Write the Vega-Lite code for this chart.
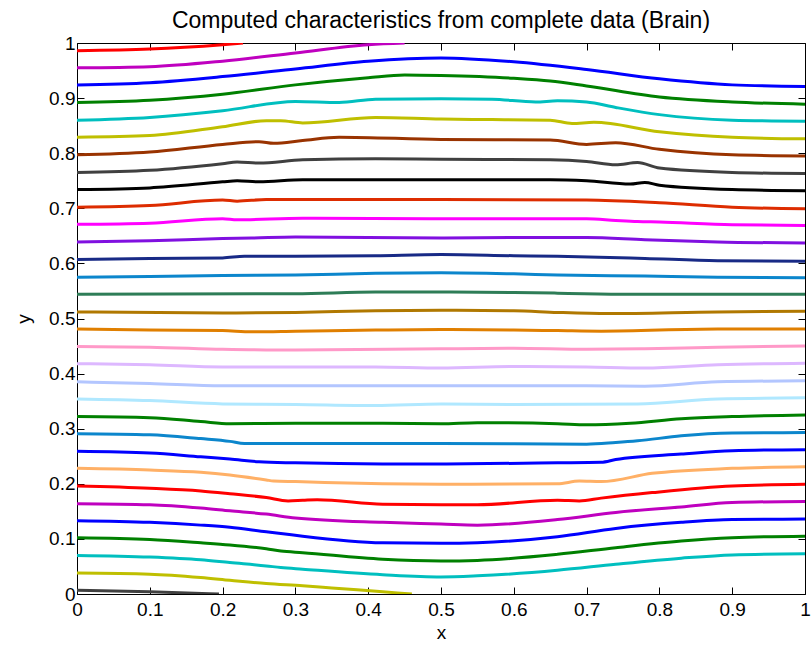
{
  "$schema": "https://vega.github.io/schema/vega-lite/v6.json",
  "width": 728,
  "height": 551,
  "autosize": {"type": "none"},
  "padding": {"left": 77, "top": 43, "right": 7, "bottom": 51},
  "background": "white",
  "title": {
    "text": "Computed characteristics from complete data (Brain)",
    "font": "Liberation Sans",
    "fontSize": 23,
    "fontWeight": "normal",
    "color": "black",
    "anchor": "middle",
    "offset": 1
  },
  "config": {
    "view": {"stroke": null},
    "axis": {
      "grid": false,
      "domainColor": "black",
      "domainWidth": 1,
      "tickColor": "black",
      "tickWidth": 1,
      "labelFont": "Liberation Sans",
      "labelFontSize": 19,
      "labelColor": "black",
      "titleFont": "Liberation Sans",
      "titleFontSize": 19,
      "titleFontWeight": "normal",
      "titleColor": "black"
    }
  },
  "data": {
    "values": [
      {"k": 1, "x": 0, "y": 0.986}, {"k": 1, "x": 0.1, "y": 0.989}, {"k": 1, "x": 0.2, "y": 0.997}, {"k": 1, "x": 0.228, "y": 1.0},
      {"k": 2, "x": 0, "y": 0.955}, {"k": 2, "x": 0.1, "y": 0.957}, {"k": 2, "x": 0.2, "y": 0.967}, {"k": 2, "x": 0.3, "y": 0.982}, {"k": 2, "x": 0.4, "y": 0.997}, {"k": 2, "x": 0.45, "y": 1.0},
      {"k": 3, "x": 0, "y": 0.924}, {"k": 3, "x": 0.1, "y": 0.928}, {"k": 3, "x": 0.2, "y": 0.939}, {"k": 3, "x": 0.3, "y": 0.953}, {"k": 3, "x": 0.4, "y": 0.967}, {"k": 3, "x": 0.5, "y": 0.973}, {"k": 3, "x": 0.6, "y": 0.966}, {"k": 3, "x": 0.7, "y": 0.952}, {"k": 3, "x": 0.8, "y": 0.935}, {"k": 3, "x": 0.9, "y": 0.924}, {"k": 3, "x": 1, "y": 0.921},
      {"k": 4, "x": 0, "y": 0.892}, {"k": 4, "x": 0.1, "y": 0.896}, {"k": 4, "x": 0.2, "y": 0.907}, {"k": 4, "x": 0.3, "y": 0.924}, {"k": 4, "x": 0.4, "y": 0.937}, {"k": 4, "x": 0.45, "y": 0.942}, {"k": 4, "x": 0.5, "y": 0.941}, {"k": 4, "x": 0.6, "y": 0.936}, {"k": 4, "x": 0.65, "y": 0.931}, {"k": 4, "x": 0.7, "y": 0.922}, {"k": 4, "x": 0.8, "y": 0.902}, {"k": 4, "x": 0.9, "y": 0.893}, {"k": 4, "x": 1, "y": 0.889},
      {"k": 5, "x": 0, "y": 0.860}, {"k": 5, "x": 0.1, "y": 0.865}, {"k": 5, "x": 0.2, "y": 0.877}, {"k": 5, "x": 0.3, "y": 0.894}, {"k": 5, "x": 0.36, "y": 0.892}, {"k": 5, "x": 0.41, "y": 0.898}, {"k": 5, "x": 0.5, "y": 0.899}, {"k": 5, "x": 0.57, "y": 0.898}, {"k": 5, "x": 0.63, "y": 0.893}, {"k": 5, "x": 0.66, "y": 0.895}, {"k": 5, "x": 0.7, "y": 0.893}, {"k": 5, "x": 0.74, "y": 0.883}, {"k": 5, "x": 0.8, "y": 0.870}, {"k": 5, "x": 0.9, "y": 0.860}, {"k": 5, "x": 1, "y": 0.858},
      {"k": 6, "x": 0, "y": 0.829}, {"k": 6, "x": 0.1, "y": 0.832}, {"k": 6, "x": 0.2, "y": 0.848}, {"k": 6, "x": 0.26, "y": 0.859}, {"k": 6, "x": 0.28, "y": 0.859}, {"k": 6, "x": 0.31, "y": 0.855}, {"k": 6, "x": 0.41, "y": 0.865}, {"k": 6, "x": 0.5, "y": 0.862}, {"k": 6, "x": 0.57, "y": 0.861}, {"k": 6, "x": 0.65, "y": 0.860}, {"k": 6, "x": 0.68, "y": 0.854}, {"k": 6, "x": 0.71, "y": 0.856}, {"k": 6, "x": 0.8, "y": 0.839}, {"k": 6, "x": 0.9, "y": 0.829}, {"k": 6, "x": 1, "y": 0.826},
      {"k": 7, "x": 0, "y": 0.797}, {"k": 7, "x": 0.1, "y": 0.802}, {"k": 7, "x": 0.2, "y": 0.816}, {"k": 7, "x": 0.25, "y": 0.821}, {"k": 7, "x": 0.27, "y": 0.818}, {"k": 7, "x": 0.31, "y": 0.823}, {"k": 7, "x": 0.36, "y": 0.829}, {"k": 7, "x": 0.5, "y": 0.825}, {"k": 7, "x": 0.65, "y": 0.824}, {"k": 7, "x": 0.7, "y": 0.816}, {"k": 7, "x": 0.74, "y": 0.819}, {"k": 7, "x": 0.8, "y": 0.807}, {"k": 7, "x": 0.9, "y": 0.797}, {"k": 7, "x": 1, "y": 0.795},
      {"k": 8, "x": 0, "y": 0.765}, {"k": 8, "x": 0.1, "y": 0.769}, {"k": 8, "x": 0.2, "y": 0.781}, {"k": 8, "x": 0.22, "y": 0.784}, {"k": 8, "x": 0.25, "y": 0.782}, {"k": 8, "x": 0.31, "y": 0.788}, {"k": 8, "x": 0.41, "y": 0.790}, {"k": 8, "x": 0.5, "y": 0.789}, {"k": 8, "x": 0.65, "y": 0.788}, {"k": 8, "x": 0.7, "y": 0.785}, {"k": 8, "x": 0.74, "y": 0.779}, {"k": 8, "x": 0.77, "y": 0.783}, {"k": 8, "x": 0.8, "y": 0.773}, {"k": 8, "x": 0.9, "y": 0.765}, {"k": 8, "x": 1, "y": 0.763},
      {"k": 9, "x": 0, "y": 0.734}, {"k": 9, "x": 0.1, "y": 0.737}, {"k": 9, "x": 0.2, "y": 0.748}, {"k": 9, "x": 0.22, "y": 0.750}, {"k": 9, "x": 0.25, "y": 0.748}, {"k": 9, "x": 0.31, "y": 0.752}, {"k": 9, "x": 0.5, "y": 0.752}, {"k": 9, "x": 0.65, "y": 0.752}, {"k": 9, "x": 0.7, "y": 0.750}, {"k": 9, "x": 0.76, "y": 0.744}, {"k": 9, "x": 0.78, "y": 0.747}, {"k": 9, "x": 0.8, "y": 0.742}, {"k": 9, "x": 0.9, "y": 0.734}, {"k": 9, "x": 1, "y": 0.732},
      {"k": 10, "x": 0, "y": 0.702}, {"k": 10, "x": 0.1, "y": 0.705}, {"k": 10, "x": 0.2, "y": 0.715}, {"k": 10, "x": 0.22, "y": 0.713}, {"k": 10, "x": 0.26, "y": 0.716}, {"k": 10, "x": 0.5, "y": 0.716}, {"k": 10, "x": 0.7, "y": 0.715}, {"k": 10, "x": 0.8, "y": 0.710}, {"k": 10, "x": 0.9, "y": 0.702}, {"k": 10, "x": 1, "y": 0.699},
      {"k": 11, "x": 0, "y": 0.671}, {"k": 11, "x": 0.1, "y": 0.673}, {"k": 11, "x": 0.2, "y": 0.681}, {"k": 11, "x": 0.22, "y": 0.679}, {"k": 11, "x": 0.31, "y": 0.682}, {"k": 11, "x": 0.5, "y": 0.681}, {"k": 11, "x": 0.7, "y": 0.681}, {"k": 11, "x": 0.74, "y": 0.678}, {"k": 11, "x": 0.77, "y": 0.676}, {"k": 11, "x": 0.8, "y": 0.675}, {"k": 11, "x": 0.9, "y": 0.670}, {"k": 11, "x": 1, "y": 0.669},
      {"k": 12, "x": 0, "y": 0.639}, {"k": 12, "x": 0.1, "y": 0.641}, {"k": 12, "x": 0.2, "y": 0.645}, {"k": 12, "x": 0.24, "y": 0.646}, {"k": 12, "x": 0.3, "y": 0.648}, {"k": 12, "x": 0.5, "y": 0.646}, {"k": 12, "x": 0.6, "y": 0.647}, {"k": 12, "x": 0.7, "y": 0.647}, {"k": 12, "x": 0.78, "y": 0.643}, {"k": 12, "x": 0.88, "y": 0.639}, {"k": 12, "x": 1, "y": 0.637},
      {"k": 13, "x": 0, "y": 0.607}, {"k": 13, "x": 0.1, "y": 0.609}, {"k": 13, "x": 0.2, "y": 0.610}, {"k": 13, "x": 0.23, "y": 0.613}, {"k": 13, "x": 0.3, "y": 0.613}, {"k": 13, "x": 0.41, "y": 0.614}, {"k": 13, "x": 0.5, "y": 0.616}, {"k": 13, "x": 0.6, "y": 0.614}, {"k": 13, "x": 0.66, "y": 0.613}, {"k": 13, "x": 0.78, "y": 0.609}, {"k": 13, "x": 0.88, "y": 0.605}, {"k": 13, "x": 1, "y": 0.604},
      {"k": 14, "x": 0, "y": 0.575}, {"k": 14, "x": 0.1, "y": 0.576}, {"k": 14, "x": 0.2, "y": 0.578}, {"k": 14, "x": 0.3, "y": 0.579}, {"k": 14, "x": 0.41, "y": 0.582}, {"k": 14, "x": 0.5, "y": 0.583}, {"k": 14, "x": 0.6, "y": 0.581}, {"k": 14, "x": 0.66, "y": 0.579}, {"k": 14, "x": 0.78, "y": 0.577}, {"k": 14, "x": 0.88, "y": 0.575}, {"k": 14, "x": 1, "y": 0.574},
      {"k": 15, "x": 0, "y": 0.544}, {"k": 15, "x": 0.3, "y": 0.545}, {"k": 15, "x": 0.41, "y": 0.548}, {"k": 15, "x": 0.5, "y": 0.548}, {"k": 15, "x": 0.6, "y": 0.547}, {"k": 15, "x": 0.66, "y": 0.546}, {"k": 15, "x": 0.76, "y": 0.544}, {"k": 15, "x": 1, "y": 0.544},
      {"k": 16, "x": 0, "y": 0.512}, {"k": 16, "x": 0.2, "y": 0.510}, {"k": 16, "x": 0.3, "y": 0.511}, {"k": 16, "x": 0.41, "y": 0.514}, {"k": 16, "x": 0.5, "y": 0.515}, {"k": 16, "x": 0.6, "y": 0.514}, {"k": 16, "x": 0.66, "y": 0.511}, {"k": 16, "x": 0.73, "y": 0.509}, {"k": 16, "x": 0.88, "y": 0.512}, {"k": 16, "x": 1, "y": 0.513},
      {"k": 17, "x": 0, "y": 0.481}, {"k": 17, "x": 0.1, "y": 0.479}, {"k": 17, "x": 0.2, "y": 0.478}, {"k": 17, "x": 0.24, "y": 0.476}, {"k": 17, "x": 0.3, "y": 0.477}, {"k": 17, "x": 0.41, "y": 0.479}, {"k": 17, "x": 0.5, "y": 0.480}, {"k": 17, "x": 0.6, "y": 0.479}, {"k": 17, "x": 0.66, "y": 0.478}, {"k": 17, "x": 0.72, "y": 0.477}, {"k": 17, "x": 0.88, "y": 0.481}, {"k": 17, "x": 1, "y": 0.481},
      {"k": 18, "x": 0, "y": 0.449}, {"k": 18, "x": 0.1, "y": 0.448}, {"k": 18, "x": 0.2, "y": 0.444}, {"k": 18, "x": 0.26, "y": 0.443}, {"k": 18, "x": 0.3, "y": 0.443}, {"k": 18, "x": 0.5, "y": 0.445}, {"k": 18, "x": 0.6, "y": 0.446}, {"k": 18, "x": 0.7, "y": 0.444}, {"k": 18, "x": 0.78, "y": 0.445}, {"k": 18, "x": 0.88, "y": 0.448}, {"k": 18, "x": 1, "y": 0.450},
      {"k": 19, "x": 0, "y": 0.418}, {"k": 19, "x": 0.1, "y": 0.416}, {"k": 19, "x": 0.2, "y": 0.412}, {"k": 19, "x": 0.3, "y": 0.412}, {"k": 19, "x": 0.41, "y": 0.412}, {"k": 19, "x": 0.5, "y": 0.410}, {"k": 19, "x": 0.6, "y": 0.413}, {"k": 19, "x": 0.7, "y": 0.412}, {"k": 19, "x": 0.78, "y": 0.410}, {"k": 19, "x": 0.88, "y": 0.416}, {"k": 19, "x": 1, "y": 0.419},
      {"k": 20, "x": 0, "y": 0.385}, {"k": 20, "x": 0.1, "y": 0.382}, {"k": 20, "x": 0.2, "y": 0.378}, {"k": 20, "x": 0.3, "y": 0.378}, {"k": 20, "x": 0.5, "y": 0.378}, {"k": 20, "x": 0.7, "y": 0.378}, {"k": 20, "x": 0.78, "y": 0.377}, {"k": 20, "x": 0.88, "y": 0.385}, {"k": 20, "x": 1, "y": 0.387},
      {"k": 21, "x": 0, "y": 0.354}, {"k": 21, "x": 0.1, "y": 0.351}, {"k": 21, "x": 0.2, "y": 0.345}, {"k": 21, "x": 0.3, "y": 0.344}, {"k": 21, "x": 0.41, "y": 0.342}, {"k": 21, "x": 0.5, "y": 0.345}, {"k": 21, "x": 0.6, "y": 0.344}, {"k": 21, "x": 0.77, "y": 0.345}, {"k": 21, "x": 0.88, "y": 0.354}, {"k": 21, "x": 1, "y": 0.356},
      {"k": 22, "x": 0, "y": 0.322}, {"k": 22, "x": 0.1, "y": 0.320}, {"k": 22, "x": 0.17, "y": 0.313}, {"k": 22, "x": 0.21, "y": 0.309}, {"k": 22, "x": 0.3, "y": 0.310}, {"k": 22, "x": 0.42, "y": 0.310}, {"k": 22, "x": 0.5, "y": 0.309}, {"k": 22, "x": 0.55, "y": 0.311}, {"k": 22, "x": 0.66, "y": 0.309}, {"k": 22, "x": 0.7, "y": 0.307}, {"k": 22, "x": 0.76, "y": 0.310}, {"k": 22, "x": 0.83, "y": 0.318}, {"k": 22, "x": 0.9, "y": 0.322}, {"k": 22, "x": 1, "y": 0.325},
      {"k": 23, "x": 0, "y": 0.291}, {"k": 23, "x": 0.1, "y": 0.289}, {"k": 23, "x": 0.17, "y": 0.282}, {"k": 23, "x": 0.21, "y": 0.277}, {"k": 23, "x": 0.23, "y": 0.273}, {"k": 23, "x": 0.5, "y": 0.273}, {"k": 23, "x": 0.7, "y": 0.272}, {"k": 23, "x": 0.74, "y": 0.275}, {"k": 23, "x": 0.77, "y": 0.278}, {"k": 23, "x": 0.83, "y": 0.287}, {"k": 23, "x": 0.9, "y": 0.292}, {"k": 23, "x": 1, "y": 0.293},
      {"k": 24, "x": 0, "y": 0.259}, {"k": 24, "x": 0.1, "y": 0.256}, {"k": 24, "x": 0.17, "y": 0.249}, {"k": 24, "x": 0.21, "y": 0.245}, {"k": 24, "x": 0.25, "y": 0.240}, {"k": 24, "x": 0.3, "y": 0.238}, {"k": 24, "x": 0.42, "y": 0.236}, {"k": 24, "x": 0.5, "y": 0.236}, {"k": 24, "x": 0.66, "y": 0.238}, {"k": 24, "x": 0.72, "y": 0.239}, {"k": 24, "x": 0.74, "y": 0.244}, {"k": 24, "x": 0.83, "y": 0.254}, {"k": 24, "x": 0.9, "y": 0.260}, {"k": 24, "x": 1, "y": 0.262},
      {"k": 25, "x": 0, "y": 0.228}, {"k": 25, "x": 0.1, "y": 0.225}, {"k": 25, "x": 0.17, "y": 0.221}, {"k": 25, "x": 0.21, "y": 0.216}, {"k": 25, "x": 0.26, "y": 0.207}, {"k": 25, "x": 0.27, "y": 0.205}, {"k": 25, "x": 0.3, "y": 0.204}, {"k": 25, "x": 0.42, "y": 0.200}, {"k": 25, "x": 0.5, "y": 0.199}, {"k": 25, "x": 0.66, "y": 0.200}, {"k": 25, "x": 0.69, "y": 0.205}, {"k": 25, "x": 0.72, "y": 0.204}, {"k": 25, "x": 0.79, "y": 0.219}, {"k": 25, "x": 0.9, "y": 0.228}, {"k": 25, "x": 1, "y": 0.231},
      {"k": 26, "x": 0, "y": 0.196}, {"k": 26, "x": 0.1, "y": 0.192}, {"k": 26, "x": 0.17, "y": 0.187}, {"k": 26, "x": 0.21, "y": 0.182}, {"k": 26, "x": 0.26, "y": 0.175}, {"k": 26, "x": 0.29, "y": 0.169}, {"k": 26, "x": 0.31, "y": 0.170}, {"k": 26, "x": 0.33, "y": 0.171}, {"k": 26, "x": 0.42, "y": 0.163}, {"k": 26, "x": 0.5, "y": 0.162}, {"k": 26, "x": 0.55, "y": 0.162}, {"k": 26, "x": 0.66, "y": 0.170}, {"k": 26, "x": 0.69, "y": 0.169}, {"k": 26, "x": 0.72, "y": 0.174}, {"k": 26, "x": 0.79, "y": 0.184}, {"k": 26, "x": 0.9, "y": 0.196}, {"k": 26, "x": 1, "y": 0.199},
      {"k": 27, "x": 0, "y": 0.164}, {"k": 27, "x": 0.1, "y": 0.162}, {"k": 27, "x": 0.17, "y": 0.156}, {"k": 27, "x": 0.21, "y": 0.151}, {"k": 27, "x": 0.26, "y": 0.145}, {"k": 27, "x": 0.3, "y": 0.138}, {"k": 27, "x": 0.42, "y": 0.130}, {"k": 27, "x": 0.5, "y": 0.127}, {"k": 27, "x": 0.55, "y": 0.125}, {"k": 27, "x": 0.66, "y": 0.135}, {"k": 27, "x": 0.74, "y": 0.148}, {"k": 27, "x": 0.83, "y": 0.158}, {"k": 27, "x": 0.9, "y": 0.166}, {"k": 27, "x": 1, "y": 0.168},
      {"k": 28, "x": 0, "y": 0.133}, {"k": 28, "x": 0.1, "y": 0.130}, {"k": 28, "x": 0.17, "y": 0.125}, {"k": 28, "x": 0.21, "y": 0.121}, {"k": 28, "x": 0.26, "y": 0.113}, {"k": 28, "x": 0.28, "y": 0.110}, {"k": 28, "x": 0.31, "y": 0.105}, {"k": 28, "x": 0.42, "y": 0.093}, {"k": 28, "x": 0.5, "y": 0.092}, {"k": 28, "x": 0.55, "y": 0.093}, {"k": 28, "x": 0.66, "y": 0.104}, {"k": 28, "x": 0.74, "y": 0.119}, {"k": 28, "x": 0.83, "y": 0.130}, {"k": 28, "x": 0.9, "y": 0.135}, {"k": 28, "x": 1, "y": 0.136},
      {"k": 29, "x": 0, "y": 0.102}, {"k": 29, "x": 0.1, "y": 0.099}, {"k": 29, "x": 0.17, "y": 0.093}, {"k": 29, "x": 0.21, "y": 0.089}, {"k": 29, "x": 0.26, "y": 0.082}, {"k": 29, "x": 0.28, "y": 0.078}, {"k": 29, "x": 0.31, "y": 0.075}, {"k": 29, "x": 0.42, "y": 0.063}, {"k": 29, "x": 0.5, "y": 0.060}, {"k": 29, "x": 0.55, "y": 0.061}, {"k": 29, "x": 0.66, "y": 0.072}, {"k": 29, "x": 0.74, "y": 0.084}, {"k": 29, "x": 0.83, "y": 0.096}, {"k": 29, "x": 0.9, "y": 0.102}, {"k": 29, "x": 1, "y": 0.105},
      {"k": 30, "x": 0, "y": 0.070}, {"k": 30, "x": 0.1, "y": 0.067}, {"k": 30, "x": 0.17, "y": 0.062}, {"k": 30, "x": 0.21, "y": 0.057}, {"k": 30, "x": 0.26, "y": 0.051}, {"k": 30, "x": 0.28, "y": 0.048}, {"k": 30, "x": 0.31, "y": 0.045}, {"k": 30, "x": 0.42, "y": 0.035}, {"k": 30, "x": 0.5, "y": 0.031}, {"k": 30, "x": 0.55, "y": 0.033}, {"k": 30, "x": 0.66, "y": 0.043}, {"k": 30, "x": 0.74, "y": 0.054}, {"k": 30, "x": 0.83, "y": 0.065}, {"k": 30, "x": 0.9, "y": 0.071}, {"k": 30, "x": 1, "y": 0.073},
      {"k": 31, "x": 0, "y": 0.038}, {"k": 31, "x": 0.1, "y": 0.036}, {"k": 31, "x": 0.17, "y": 0.030}, {"k": 31, "x": 0.21, "y": 0.025}, {"k": 31, "x": 0.26, "y": 0.019}, {"k": 31, "x": 0.31, "y": 0.015}, {"k": 31, "x": 0.35, "y": 0.011}, {"k": 31, "x": 0.42, "y": 0.004}, {"k": 31, "x": 0.46, "y": 0.0},
      {"k": 32, "x": 0, "y": 0.007}, {"k": 32, "x": 0.1, "y": 0.004}, {"k": 32, "x": 0.195, "y": 0.0}
    ]
  },
  "layer": [
    {
      "mark": {"type": "line", "strokeWidth": 3, "interpolate": "monotone", "clip": true},
      "encoding": {
        "x": {
          "field": "x", "type": "quantitative",
          "scale": {"domain": [0, 1], "nice": false, "zero": false},
          "axis": {
            "orient": "bottom",
            "values": [0, 0.1, 0.2, 0.3, 0.4, 0.5, 0.6, 0.7, 0.8, 0.9, 1],
            "format": "~g",
            "tickSize": -7,
            "labelPadding": 13,
            "labelFlush": false,
            "title": "x",
            "titlePadding": 4
          }
        },
        "y": {
          "field": "y", "type": "quantitative",
          "scale": {"domain": [0, 1], "nice": false, "zero": false},
          "axis": {
            "orient": "left",
            "values": [0, 0.1, 0.2, 0.3, 0.4, 0.5, 0.6, 0.7, 0.8, 0.9, 1],
            "format": "~g",
            "tickSize": -7,
            "labelPadding": 9,
            "labelFlush": false,
            "title": "y",
            "titlePadding": 15
          }
        },
        "color": {
          "field": "k", "type": "nominal", "legend": null,
          "scale": {
            "domain": [1, 2, 3, 4, 5, 6, 7, 8, 9, 10, 11, 12, 13, 14, 15, 16, 17, 18, 19, 20, 21, 22, 23, 24, 25, 26, 27, 28, 29, 30, 31, 32],
            "range": ["#FF0000", "#BF00BF", "#0000FF", "#008000", "#00BFBF", "#BFBF00", "#993300", "#404040", "#000000", "#DD2C00", "#FF00FF", "#8010E0", "#182A86", "#0C86CC", "#2E7D57", "#B07800", "#E07F00", "#FF99C8", "#DDB8FF", "#B3C6FF", "#B0E8FF", "#008000", "#0C86CC", "#0000FF", "#FFB066", "#FF0000", "#BF00BF", "#0000FF", "#008000", "#00BFBF", "#BFBF00", "#404040"]
          }
        }
      }
    },
    {
      "mark": {"type": "line", "opacity": 0},
      "encoding": {
        "x": {
          "field": "x", "type": "quantitative",
          "scale": {"domain": [0, 1], "nice": false, "zero": false},
          "axis": {
            "orient": "top",
            "values": [0, 0.1, 0.2, 0.3, 0.4, 0.5, 0.6, 0.7, 0.8, 0.9, 1],
            "tickSize": -7,
            "labels": false,
            "title": null
          }
        },
        "y": {
          "field": "y", "type": "quantitative",
          "scale": {"domain": [0, 1], "nice": false, "zero": false},
          "axis": {
            "orient": "right",
            "values": [0, 0.1, 0.2, 0.3, 0.4, 0.5, 0.6, 0.7, 0.8, 0.9, 1],
            "tickSize": -7,
            "labels": false,
            "title": null
          }
        },
        "detail": {"field": "k", "type": "nominal"}
      }
    }
  ],
  "resolve": {"axis": {"x": "independent", "y": "independent"}}
}
